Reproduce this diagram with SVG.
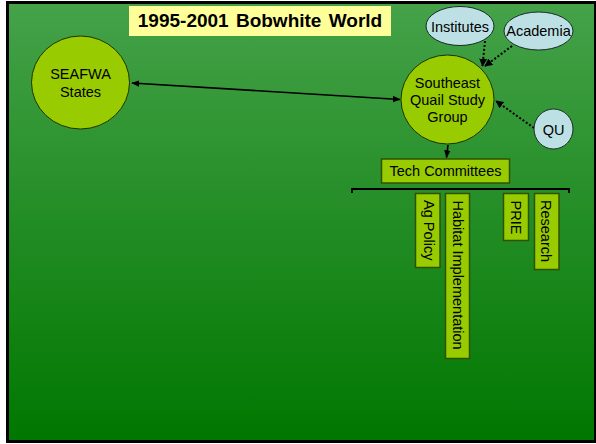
<svg xmlns="http://www.w3.org/2000/svg" width="596" height="444" viewBox="0 0 596 444">
<defs>
<linearGradient id="bg" x1="0" y1="0" x2="0" y2="1">
<stop offset="0" stop-color="#45a249"/>
<stop offset="1" stop-color="#007700"/>
</linearGradient>
<marker id="ah" viewBox="0 0 10 10" refX="9" refY="5" markerWidth="5" markerHeight="5" orient="auto-start-reverse">
<path d="M0,1 L10,5 L0,9 z" fill="#000"/>
</marker>
<marker id="ahd" viewBox="0 0 10 10" refX="9" refY="5" markerWidth="4" markerHeight="4" orient="auto">
<path d="M0,0 L10,5 L0,10 z" fill="#000"/>
</marker>
</defs>
<style>
text{font-family:"Liberation Sans",Arial,sans-serif;fill:#000}
.node{fill:#99cc00;stroke:#1a3300;stroke-width:1}
.ext{fill:#bde0e4;stroke:#1a2a2a;stroke-width:1}
.box{fill:#99cc00;stroke:#2f5200;stroke-width:1.5}
.lbl{font-size:14.5px}
.c{text-anchor:middle}
.solid{stroke:#000;stroke-width:1.6;fill:none}
.dot{stroke:#000;stroke-width:2;stroke-dasharray:2 2;fill:none}
</style>
<rect x="0" y="0" width="596" height="444" fill="#fff"/>
<rect x="7.5" y="2.5" width="588" height="439" fill="url(#bg)" stroke="#000" stroke-width="3"/>
<g id="title">
<rect x="129" y="6" width="262" height="30" fill="#ffff99"/>
<text x="260" y="27" class="c" style="font-size:19px;font-weight:bold;word-spacing:2px">1995-2001 Bobwhite World</text>
</g>
<g id="connectors">
<line class="solid" x1="132" y1="83" x2="400" y2="99.5" marker-start="url(#ah)" marker-end="url(#ah)"/>
<line class="solid" x1="448" y1="145" x2="446.5" y2="157.5" marker-end="url(#ah)"/>
<line class="dot" x1="485" y1="41" x2="482.5" y2="66" marker-end="url(#ahd)"/>
<line class="dot" x1="512" y1="46" x2="485" y2="66" marker-end="url(#ahd)"/>
<line class="dot" x1="534" y1="128" x2="496" y2="101" marker-end="url(#ahd)"/>
<path d="M352,193 V189 H569 V193" stroke="#000" stroke-width="2" fill="none"/>
</g>
<g id="seafwa">
<ellipse class="node" cx="80.5" cy="82.5" rx="49" ry="46.5"/>
<text class="lbl c" x="80.5" y="79">SEAFWA</text>
<text class="lbl c" x="80.5" y="97">States</text>
</g>
<g id="sqsg">
<ellipse class="node" cx="447.5" cy="99.5" rx="46.5" ry="44.5"/>
<text class="lbl c" x="447.5" y="88">Southeast</text>
<text class="lbl c" x="447.5" y="105">Quail Study</text>
<text class="lbl c" x="447.5" y="122">Group</text>
</g>
<g id="institutes">
<ellipse class="ext" cx="460" cy="26" rx="34" ry="19.5"/>
<text class="lbl c" x="460" y="32">Institutes</text>
</g>
<g id="academia">
<ellipse class="ext" cx="538.5" cy="31" rx="34.5" ry="19"/>
<text class="lbl c" x="538.5" y="36">Academia</text>
</g>
<g id="qu">
<ellipse class="ext" cx="553.5" cy="129" rx="19.5" ry="20"/>
<text class="lbl c" x="553.5" y="135">QU</text>
</g>
<g id="tech">
<rect class="box" x="381.5" y="159" width="128" height="24"/>
<text class="lbl c" x="445.5" y="176">Tech Committees</text>
</g>
<g id="agpolicy">
<rect class="box" x="415.5" y="193.5" width="24.5" height="74"/>
<text class="lbl" transform="translate(423.5,200) rotate(90)">Ag Policy</text>
</g>
<g id="habitat">
<rect class="box" x="445.5" y="193.5" width="24" height="165"/>
<text class="lbl" transform="translate(452.5,200.5) rotate(90)">Habitat Implementation</text>
</g>
<g id="prie">
<rect class="box" x="503.5" y="193.5" width="25" height="47"/>
<text class="lbl" transform="translate(511,200.5) rotate(90)">PRIE</text>
</g>
<g id="research">
<rect class="box" x="534.5" y="193.5" width="24.5" height="76"/>
<text class="lbl" transform="translate(541,200) rotate(90)">Research</text>
</g>
</svg>
